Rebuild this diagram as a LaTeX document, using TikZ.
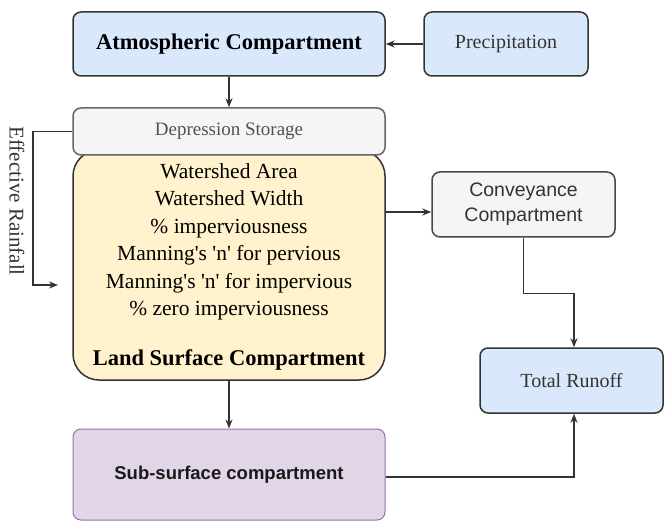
\documentclass[tikz,border=0pt]{standalone}
\usepackage{fontspec}
\setmainfont{Liberation Serif}
\setsansfont{Liberation Sans}
\usetikzlibrary{arrows.meta,calc}
\definecolor{blueF}{HTML}{DAE8FC}
\definecolor{grayF}{HTML}{F5F5F5}
\definecolor{yelF}{HTML}{FFF2CC}
\definecolor{purF}{HTML}{E1D5E7}
\definecolor{purD}{HTML}{9673A6}
\definecolor{darkD}{HTML}{333333}
\definecolor{grayD}{HTML}{666666}
\newcommand{\sq}{\textquotesingle}
\begin{document}
\begin{tikzpicture}[x=1pt,y=-1pt,
  box/.style={draw=darkD,line width=1.5pt,rounded corners=8pt,inner sep=0pt},
  conn/.style={draw=darkD,line width=1.5pt},
  arr/.style={conn,-{Stealth[length=9pt,width=7pt]}},
  txt/.style={inner sep=0pt}]
\useasboundingbox (0,0) rectangle (664,521);
% boxes
\node[box,fill=blueF,minimum width=312pt,minimum height=64pt,font=\fontsize{22.5}{26}\selectfont\bfseries] (atm) at (229,44)
  {Atmospheric Compartment};
\node[box,fill=blueF,minimum width=164pt,minimum height=64pt,font=\fontsize{20}{24}\selectfont,text=darkD] (prec) at (506,44)
  {Precipitation};
\node[box,fill=yelF,rounded corners=26pt,minimum width=312pt,minimum height=230pt] (land) at (229,265) {};
\node[box,draw=grayD,fill=grayF,minimum width=312pt,minimum height=47pt,font=\fontsize{19}{23}\selectfont,text=darkD!85] (dep) at (229,131.5)
  {Depression Storage};
\node[txt,align=center,anchor=north,font=\fontsize{21.5}{27.5}\selectfont] (landtext) at (229,163)
  {Watershed Area\\Watershed Width\\\% imperviousness\\Manning\sq s \sq n\sq{} for pervious\\Manning\sq s \sq n\sq{} for impervious\\\% zero imperviousness};
\node[txt,font=\fontsize{22.5}{26}\selectfont\bfseries] (landtitle) at (229,360) {Land Surface Compartment};
\node[box,draw=darkD!90,fill=grayF,minimum width=183pt,minimum height=65pt,align=center,font=\sffamily\fontsize{19.5}{25}\selectfont,text=darkD] (conv) at (523.5,204.5)
  {Conveyance\\Compartment};
\node[box,fill=blueF,minimum width=183pt,minimum height=65pt,font=\fontsize{20}{24}\selectfont,text=darkD] (runoff) at (571.5,380.5)
  {Total Runoff};
\node[box,draw=purD,line width=1pt,fill=purF,minimum width=312pt,minimum height=91pt,font=\sffamily\bfseries\fontsize{18.5}{22}\selectfont,text=black!90] (sub) at (229,474.5)
  {Sub-surface compartment};
\node[txt,rotate=-90,font=\fontsize{21}{25}\selectfont,text=darkD] (eff) at (17,201) {Effective Rainfall};
% connectors
\coordinate (effend) at (58,285);
\draw[arr] (prec.west) -- (atm.east);
\draw[arr] (atm.south) -- (dep.north);
\draw[arr] (dep.west) -- (33,131.5) |- (effend);
\draw[arr] ($(land.east)+(0,-53)$) -- ($(conv.west)+(0,7.5)$);
\draw[arr] (conv.south) -- ++(0,56) -| ($(runoff.north)+(2.5,0)$);
\draw[arr] (land.south) -- (sub.north);
\draw[arr] ($(sub.east)+(0,2.5)$) -| ($(runoff.south)+(2.5,0)$);
\end{tikzpicture}
\end{document}
